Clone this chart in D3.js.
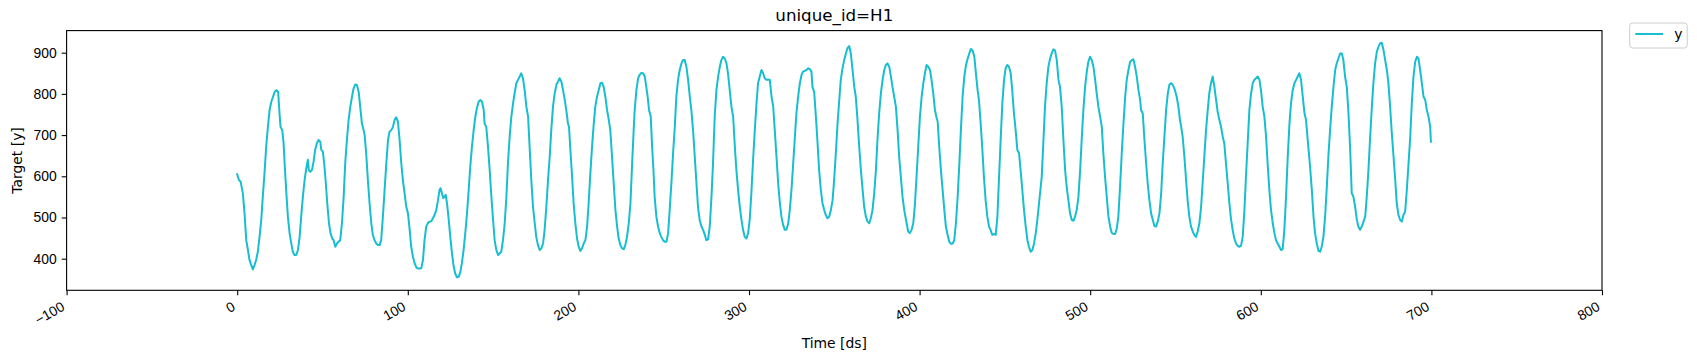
<!DOCTYPE html>
<html>
<head>
<meta charset="utf-8">
<script src="https://cdn.jsdelivr.net/npm/d3@7"></script>
<style>
  html, body { margin: 0; padding: 0; background: #ffffff; }
  svg { display: block; font-family: "DejaVu Sans", sans-serif; }
</style>
</head>
<body>
<svg id="chart" width="1697" height="361"></svg>
<script>
// ---------------- data ----------------
const chartTitle = "unique_id=H1";
const xLabel = "Time [ds]";
const yLabel = "Target [y]";
const seriesName = "y";
const xTicks = [-100, 0, 100, 200, 300, 400, 500, 600, 700, 800];
const yTicks = [400, 500, 600, 700, 800, 900];

// time stamps of the read points
const ds = [
  0,1,2,3.3,4.3,5.3,6.3,7.2,8.2,9.2, 10.2,11.1,12.1,13.1,14.1,15,16,17,18,19,
  20,21,22,23,24,24.8,25.4,26.4,27.2,27.8, 28.7,29.7,30.7,31.7,32.6,33.6,34.6,35.6,36.6,37.5,
  38.5,39.5,40.5,41.4,42,42.8,43.8,44.8,45.7,46.7, 47.7,48.7,49.3,50.2,51,51.8,52.8,53.8,54.7,55.7,
  56.5,57.5,58.5,59.4,60.4,61.4,62.4,63.3,64.3,65.3, 66.3,67.3,68.2,69.2,70.2,71.2,72.1,73.1,74.1,
  74.7,75.6,76.6,77.6,78.6,79.5,80.5,81.5,82.5,83.5, 84.4,85.4,86.4,87.4,88.4,89.3,90.3,91.3,92.3,93.2,
  94.2,95.2,96.2,97.1,98.1,99.1,100.1,101.1,102,103, 104,105,106,106.9,107.9,108.9,109.8,110.8,111.8,112.8,
  113.8,114.7,115.7,116.7,117.7,118.6,119.2,120,120.8,121.6, 122.2,123,124,124.9,125.9,126.9,127.8,128.8,129.8,130.8,
  131.7,132.7,133.7,134.7,135.7,136.6,137.6,138.6,139.6,140.5, 141.5,142.5,143.5,144.5,145,146,147,148,149,150,
  150.9,151.9,152.9,
  154.8,155.8,156.8,157.8,158.7,159.7,160.7,161.7,162.6,163.6, 164.6,165.6,166.5,167.5,168.5,169.5,170.5,171.4,172.4,173.4,
  174.4,175.3,176.3,177.3,178.3,179.3,180.2,181.2,182.2,183.2, 184.1,185.1,186.1,187.1,188.1,189,190,191,192,192.9,
  193.9,194.5,195.3,196.3,197.2,198.2,199.2,200.2,201.1,202.1, 203.1,204.1,205.1,206,207,208,209,209.9,210.9,211.9,
  212.9,213.9,214.8,215.8,216.8,217.8,218.7,219.7,220.7,221.7, 222.7,223.6,224.6,225.6,226.6,227.5,228.5,229.5,230.5,231.5,
  232.4,
  233,234,235,235.9,236.9,237.9,238.9,239.8,240.6,241.4, 242.4,243.2,244,244.7,245.7,246.7,247.7,248.6,249.6,250.6,
  251.6,252.6,253.5,254.5,255.5,256.5,257.4,258.4,259.4,260.4, 261.3,262.3,263.3,264.3,265.3,266.2,267.2,268.2,269.2,270.1,
  271.1,272.1,273.1,274.1,275,276,277,278,278.9,279.9, 280.9,281.9,282.9,283.8,284.8,285.8,286.8,287.7,288.7,289.7,
  290.7,291.7,292.6,293.6,294.6,295.6,296.5,297.5,298.5,299.5, 300.4,301.4,302.4,303.4,304.4,305.3,306.3,307.3,308.3,309.2,
  310.2,311.2,
  312.2,313.2,314.2,315.1,316.1,317.1,318.1,319,320,321, 322,323,323.9,324.9,325.9,326.9,327.8,328.8,329.8,330.8,
  331.7,332.7,333.7,334.7,335.7,336.6,337.2,338.2,339.2,340.2, 341.1,342.1,343.1,344.1,345,346,347,348,349,349.9,
  350.9,351.9,352.9,353.8,354.8,355.8,356.8,357.7,358.7,359.7, 360.7,361.7,362.6,363.6,364.6,365.6,366.6,367.5,368.5,369.5,
  370.5,371.4,372.4,373.4,374.4,375.3,376.3,377.3,378.3,379.3, 380.2,381.2,382.2,383.2,384.1,385.1,386.1,387.1,388,389,
  390,391,
  392.4,393.3,394.3,395.3,396.3,397.3,398.2,399.2,400.2,401.2, 402.2,403.1,404.1,405.1,406.1,407,408,409,410,410.6,
  411.5,412.5,413.5,414.5,415.4,416.4,417.4,418.4,419.4,420.3, 421.3,422.3,423.3,424.2,425.2,426.2,427.2,428.2,429.1,430.1,
  431.1,432.1,433,434,434.8,435.8,436.8,437.7,438.7,439.7, 440.7,441.6,442.6,443.6,444.6,445.6,446.5,447.5,448.5,449.5,
  450.4,451.4,452.4,453.4,454.3,455.3,456.3,457.3,458.3,459.2, 460.2,461.2,462.2,463.2,464.1,465.1,466.1,467.1,468.1,469,
  470,
  471.6,472.6,473.5,474.5,475.5,476.5,477.4,478.4,479.4,480.4, 481.4,482.3,483.3,484.3,485.3,486.2,487.2,488.2,489.2,490.2,
  491.1,492.1,493.1,494.1,495,496,497,498,498.9,499.9, 500.9,501.9,502.9,503.8,504.8,505.8,506.8,507.7,508.7,509.7,
  510.7,511.7,512.6,513.6,514.6,515.6,516.5,517.5,518.5,519.5, 520.5,521.4,522.4,523.4,524.4,525.3,526.3,527.3,528.3,529.3,
  529.8,530.8,531.8,532.8,533.7,534.7,535.7,536.7,537.7,538.6, 539.6,540.6,541.6,542.5,543.5,544.5,545.5,546.4,547.4,548.4,
  549.7,550.7,551.7,552.6,553.2,554.2,555.2,556.2,557.1,558.1, 559.1,560.1,561,562,563,564,565,565.9,566.9,567.9,
  568.9,569.8,570.8,571.8,572.8,573.8,574.7,575.7,576.7,577.7, 578.6,579.6,580.6,581.6,582.6,583.5,584.5,585.5,586.5,587.4,
  588.4,589.4,590.4,591.3,592.3,593.3,594.3,595.3,596.2,597.2, 598.2,599.2,600.1,601.1,602.1,603.1,604,605,606,607,
  608,608.9,609.9,610.9,611.9,612.8,613.8,614.8,615.8,616.8, 617.7,618.7,619.7,620.7,621.6,622.6,623.6,624.6,625.6,626.5,
  627.5,
  628.9,629.9,630.9,631.8,632.8,633.8,634.8,635.7,636.7,637.7, 638.7,639.6,640.6,641.6,642.6,643.6,644.5,645.5,646.5,647.5,
  648.4,649.4,650.4,651.4,652.4,653.3,654.3,655.3,656.3,657.2, 658.2,659.2,660.2,661.2,662.1,663.1,664.1,665.1,666,667,
  668,669,670,670.9,671.9,672.9,673.9,674.8,675.8,676.8, 677.8,678.8,679.7,680.7,681.7,682.7,683.6,684.6,685.6,686.6,
  687.6,688.5,689.5,690.5,691.5,692.4,693.4,694.4,695.4,696.4, 697.3,698.3,699.3,699.7
];

// target values of the read points (same order as ds)
const yValues = [
  605,591,587,559,510,445,421,397,385,374, 385,397,417,453,494,550,607,672,720,761,
  781,793,805,809,805,753,720,712,680,631, 567,502,462,437,417,409,409,421,453,502,
  550,591,619,640,615,611,615,636,664,680, 688,684,664,660,631,591,534,486,462,449,
  445,429,437,441,445,486,550,631,688,737, 769,793,813,823,821,805,769,728,712,
  700,656,591,534,486,458,445,437,433,433, 445,502,567,631,688,708,712,720,737,743,
  733,688,631,591,559,526,510,470,429,405, 389,379,376,376,377,397,445,478,487,490,
  491,498,506,518,542,567,571,559,547,551, 555,534,494,453,413,381,364,355,356,368,
  389,421,462,510,567,623,672,712,745,765, 781,785,781,761,728,720,672,615,550,494,
  445,421,409,
  417,445,486,550,631,696,745,777,801,826, 834,842,850,838,809,769,745,672,591,526,
  486,453,433,421,425,437,470,526,591,648, 712,769,801,822,830,838,830,809,785,761,
  728,720,664,599,534,486,449,429,419,425, 437,445,478,534,607,672,728,769,793,809,
  826,827,817,793,761,737,712,648,583,518, 478,449,433,425,423,433,453,486,534,631,
  712,
  761,809,838,846,851,850,842,817,793,761, 745,672,615,550,502,478,462,453,445,441,
  441,462,518,583,656,720,793,834,858,874, 882,882,866,834,793,761,712,648,583,526,
  494,478,470,458,445,447,478,550,631,745, 809,842,866,882,890,886,874,850,809,769,
  745,672,615,567,526,494,470,453,449,462, 494,559,640,712,777,826,842,858,850,838,
  834,835,
  834,793,769,712,648,583,534,502,482,470, 471,486,518,567,631,696,753,793,826,846,
  854,856,858,862,860,854,817,805,745,680, 615,567,534,518,506,498,502,518,542,591,
  656,728,785,834,862,882,898,911,916,898, 858,817,793,737,672,615,567,526,502,490,
  486,498,518,559,615,688,753,801,834,858, 870,874,866,842,817,793,769,712,648,599,
  550,518,
  486,466,462,470,486,534,599,672,745,793, 826,850,870,866,858,834,801,761,741,733,
  672,615,567,518,478,458,441,436,437,445, 486,550,631,712,793,842,870,886,898,909,
  905,890,850,809,785,728,664,599,542,502, 478,470,458,460,458,502,591,688,777,834,
  862,870,866,850,809,753,712,664,656,615, 567,518,478,445,429,417,421,437,462,494,
  534,
  599,688,769,826,866,886,898,908,905,882, 834,817,769,688,615,575,542,510,494,492,
  502,518,550,615,688,761,817,854,878,890, 882,866,834,801,769,745,720,656,599,550,
  502,478,463,460,460,474,502,575,656,728, 793,834,858,878,882,884,866,842,809,785,
  761,753,688,631,583,542,510,494,479,478, 490,510,559,631,696,761,801,822,826,822,
  809,793,769,737,724,696,648,591,542,502, 478,466,458,453,466,486,526,583,648,712,
  761,801,826,842,817,785,757,737,720,696, 680,631,583,534,494,470,449,437,431,429,
  431,453,518,599,680,761,801,826,834,838, 842,834,809,769,745,696,631,567,518,486,
  462,445,437,429,421,423,470,550,648,728, 777,809,826,834,842,850,834,793,753,737,
  688,
  623,567,502,462,437,419,417,429,453,502, 575,648,712,769,817,858,874,886,898,898,
  882,842,817,753,664,559,550,526,494,478, 470,478,490,502,550,615,696,769,826,874,
  902,915,923,924,907,882,858,826,769,704, 648,591,534,506,494,490,506,514,567,631,
  696,777,842,878,890,886,858,826,793,785, 761,745,720,684
];

// ---------------- drawing ----------------
const W = 1697, H = 361;
const plot = { left: 66.6, right: 1602, top: 30.6, bottom: 290.3 };
const lineColor = "#17becf";
const fs = 13.9;

const svg = d3.select("#chart");

const x = d3.scaleLinear().domain([-100, 800]).range([plot.left, plot.right]);
const y = d3.scaleLinear().domain([323.3, 953.6]).range([plot.bottom, plot.top]);

const n = Math.min(ds.length, yValues.length);
const pts = d3.range(n).map(i => ({ t: ds[i], v: yValues[i] }));

// series line
svg.append("path")
  .datum(pts)
  .attr("fill", "none")
  .attr("stroke", lineColor)
  .attr("stroke-width", 2)
  .attr("stroke-linejoin", "round")
  .attr("stroke-linecap", "square")
  .attr("d", d3.line().x(d => x(d.t)).y(d => y(d.v)));

// x axis
const xAxis = svg.append("g")
  .attr("transform", `translate(0,${plot.bottom})`)
  .call(d3.axisBottom(x).tickValues(xTicks).tickSize(4.9).tickSizeOuter(0)
        .tickFormat(d => d < 0 ? "\u2212" + Math.abs(d) : String(d)));
xAxis.select(".domain").remove();
xAxis.selectAll(".tick line").attr("stroke", "#000").attr("stroke-width", 1.1);
xAxis.selectAll(".tick text")
  .attr("fill", "#000")
  .style("font-size", fs + "px")
  .attr("text-anchor", "end")
  .attr("x", -1.5)
  .attr("y", 19.2)
  .attr("dy", null)
  .attr("transform", "rotate(-30 -1.5 19.2)");

// y axis
const yAxis = svg.append("g")
  .attr("transform", `translate(${plot.left},0)`)
  .call(d3.axisLeft(y).tickValues(yTicks).tickSize(4.9).tickPadding(4.9).tickSizeOuter(0));
yAxis.select(".domain").remove();
yAxis.selectAll(".tick line").attr("stroke", "#000").attr("stroke-width", 1.1);
yAxis.selectAll(".tick text")
  .attr("fill", "#000")
  .style("font-size", fs + "px");

// frame
svg.append("rect")
  .attr("x", plot.left).attr("y", plot.top)
  .attr("width", plot.right - plot.left).attr("height", plot.bottom - plot.top)
  .attr("fill", "none").attr("stroke", "#000").attr("stroke-width", 1.1);

// title & labels
svg.append("text")
  .attr("x", (plot.left + plot.right) / 2).attr("y", 20.5)
  .attr("text-anchor", "middle")
  .style("font-size", "16.7px")
  .text(chartTitle);

svg.append("text")
  .attr("x", (plot.left + plot.right) / 2).attr("y", 348)
  .attr("text-anchor", "middle")
  .style("font-size", fs + "px")
  .text(xLabel);

svg.append("text")
  .attr("transform", `translate(21.5,${(plot.top + plot.bottom) / 2}) rotate(-90)`)
  .attr("text-anchor", "middle")
  .style("font-size", fs + "px")
  .text(yLabel);

// legend
const lg = svg.append("g");
lg.append("rect")
  .attr("x", 1629.7).attr("y", 23).attr("width", 57.5).attr("height", 25)
  .attr("rx", 2.8)
  .attr("fill", "#ffffff").attr("fill-opacity", 0.8)
  .attr("stroke", "#cccccc").attr("stroke-width", 1);
lg.append("line")
  .attr("x1", 1635.3).attr("x2", 1663.1).attr("y1", 34).attr("y2", 34)
  .attr("stroke", lineColor).attr("stroke-width", 2);
lg.append("text")
  .attr("x", 1674.2).attr("y", 39.2)
  .style("font-size", fs + "px")
  .text(seriesName);
</script>
</body>
</html>
